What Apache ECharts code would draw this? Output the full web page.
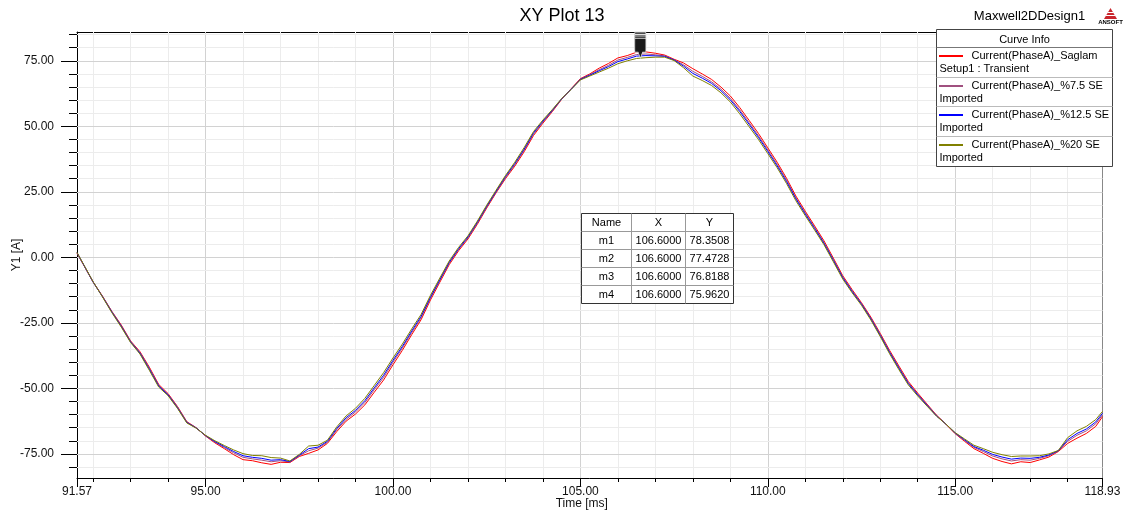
<!DOCTYPE html>
<html><head><meta charset="utf-8">
<script src="https://cdn.jsdelivr.net/npm/echarts@6/dist/echarts.min.js"></script>
<style>html,body{margin:0;padding:0;background:#fff}#c{width:1128px;height:511px}</style>
</head><body><div id="c"></div>
<script>
// ---- data ----
const timeMs = [91.57, 91.75, 92.00, 92.25, 92.50, 92.75, 93.00, 93.25, 93.50, 93.75,
  94.00, 94.25, 94.50, 94.75, 95.00, 95.25, 95.50, 95.75, 96.00, 96.25,
  96.50, 96.75, 97.00, 97.25, 97.50, 97.75, 98.00, 98.25, 98.50, 98.75,
  99.00, 99.25, 99.50, 99.75, 100.00, 100.25, 100.50, 100.75, 101.00, 101.25,
  101.50, 101.75, 102.00, 102.25, 102.50, 102.75, 103.00, 103.25, 103.50, 103.75,
  104.00, 104.25, 104.50, 104.75, 105.00, 105.25, 105.50, 105.75, 106.00, 106.25,
  106.50, 106.75, 107.00, 107.25, 107.50, 107.75, 108.00, 108.25, 108.50, 108.75,
  109.00, 109.25, 109.50, 109.75, 110.00, 110.25, 110.50, 110.75, 111.00, 111.25,
  111.50, 111.75, 112.00, 112.25, 112.50, 112.75, 113.00, 113.25, 113.50, 113.75,
  114.00, 114.25, 114.50, 114.75, 115.00, 115.25, 115.50, 115.75, 116.00, 116.25,
  116.50, 116.75, 117.00, 117.25, 117.50, 117.75, 118.00, 118.25, 118.50, 118.75,
  118.93];

const currentSaglam = [1.6, -3.0, -9.4, -14.8, -20.6, -25.8, -31.9, -36.0, -41.9, -48.5,
  -52.0, -56.9, -62.7, -65.0, -68.2, -70.8, -73.0, -75.3, -77.2, -77.6,
  -78.4, -79.0, -78.2, -78.3, -76.0, -74.8, -73.5, -71.0, -66.5, -62.5,
  -59.8, -56.3, -51.5, -46.8, -41.0, -35.5, -29.5, -23.8, -16.3, -9.5,
  -2.8, 2.5, 7.0, 12.6, 18.8, 24.6, 30.0, 34.8, 40.3, 46.5,
  51.2, 55.6, 60.3, 64.3, 68.2, 70.0, 72.2, 74.0, 76.1, 77.0,
  78.3, 78.4, 77.9, 77.2, 75.6, 74.2, 72.0, 70.0, 67.9, 65.0,
  61.6, 57.2, 52.3, 47.3, 41.8, 36.3, 30.2, 23.4, 17.6, 12.0,
  6.3, -0.3, -7.0, -12.3, -17.3, -22.8, -29.0, -35.5, -41.5, -47.4,
  -51.8, -56.0, -60.2, -63.6, -67.3, -70.2, -73.0, -74.8, -76.7, -77.9,
  -78.8, -78.0, -78.3, -77.3, -76.2, -74.1, -71.0, -69.0, -67.2, -64.5,
  -60.8];

const current7p5SE = [1.7, -2.9, -9.5, -14.9, -20.7, -26.1, -32.1, -36.3, -42.3, -48.9,
  -52.3, -57.1, -62.9, -65.1, -68.1, -70.5, -72.6, -74.6, -76.3, -76.9,
  -77.4, -78.0, -77.6, -78.1, -75.7, -73.8, -72.8, -70.6, -65.8, -61.8,
  -59.0, -55.4, -50.5, -45.8, -40.0, -34.6, -28.7, -23.1, -15.6, -8.9,
  -2.3, 3.0, 7.4, 13.0, 19.2, 24.9, 30.4, 35.3, 40.9, 47.0,
  51.6, 55.9, 60.4, 64.2, 68.0, 69.7, 71.6, 73.3, 75.3, 76.3,
  77.4, 77.6, 77.3, 76.9, 75.4, 73.5, 71.0, 69.1, 67.0, 64.2,
  60.7, 56.3, 51.4, 46.4, 41.0, 35.5, 29.5, 22.7, 17.0, 11.4,
  5.7, -0.8, -7.5, -12.7, -17.7, -23.2, -29.4, -36.0, -42.0, -47.9,
  -52.2, -56.3, -60.3, -63.6, -67.2, -69.9, -72.5, -74.1, -75.8, -76.9,
  -77.7, -77.2, -77.4, -76.7, -75.7, -73.9, -70.2, -67.9, -66.2, -63.5,
  -60.1];

const current12p5SE = [1.8, -2.9, -9.4, -15.0, -20.9, -26.3, -32.3, -36.6, -42.7, -49.1,
  -52.5, -57.4, -63.0, -65.1, -68.0, -70.3, -72.2, -74.1, -75.7, -76.3,
  -76.7, -77.4, -77.2, -77.9, -75.5, -73.0, -72.4, -70.2, -65.3, -61.2,
  -58.4, -54.7, -49.8, -45.0, -39.3, -34.0, -28.1, -22.5, -15.2, -8.5,
  -1.9, 3.3, 7.8, 13.4, 19.5, 25.2, 30.8, 35.8, 41.3, 47.5,
  52.0, 56.1, 60.5, 64.1, 67.9, 69.5, 71.2, 72.8, 74.7, 75.7,
  76.8, 77.0, 76.9, 76.7, 75.3, 73.0, 70.2, 68.4, 66.4, 63.6,
  60.1, 55.7, 50.8, 45.8, 40.4, 34.9, 28.9, 22.3, 16.5, 11.0,
  5.3, -1.2, -7.8, -13.1, -17.9, -23.5, -29.8, -36.3, -42.4, -48.2,
  -52.5, -56.5, -60.5, -63.6, -67.0, -69.6, -72.2, -73.6, -75.2, -76.2,
  -77.0, -76.6, -76.7, -76.3, -75.4, -73.8, -69.6, -67.2, -65.5, -62.8,
  -59.5];

const current20SE = [1.9, -2.8, -9.3, -15.1, -21.1, -26.6, -32.5, -36.9, -43.1, -49.5,
  -52.8, -57.6, -63.2, -65.2, -67.9, -70.0, -71.8, -73.5, -74.9, -75.6,
  -75.7, -76.4, -76.6, -77.7, -75.2, -72.0, -71.7, -69.8, -64.7, -60.5,
  -57.6, -53.8, -48.9, -44.0, -38.4, -33.1, -27.3, -21.8, -14.5, -7.9,
  -1.4, 3.8, 8.2, 13.8, 19.9, 25.6, 31.2, 36.3, 41.9, 48.0,
  52.4, 56.4, 60.6, 64.0, 67.7, 69.2, 70.7, 72.2, 73.9, 75.0,
  75.9, 76.2, 76.4, 76.4, 75.1, 72.4, 69.2, 67.5, 65.6, 62.8,
  59.3, 54.8, 49.9, 45.0, 39.6, 34.2, 28.2, 21.6, 15.9, 10.4,
  4.8, -1.7, -8.3, -13.5, -18.3, -23.9, -30.2, -36.8, -42.9, -48.7,
  -52.9, -56.8, -60.6, -63.6, -66.9, -69.3, -71.7, -73.0, -74.4, -75.3,
  -76.0, -75.8, -75.8, -75.7, -75.0, -73.7, -68.8, -66.2, -64.5, -61.9,
  -58.8];

const seriesNames = ['Current(PhaseA)_Saglam', 'Current(PhaseA)_%7.5 SE', 'Current(PhaseA)_%12.5 SE', 'Current(PhaseA)_%20 SE'];
const seriesSubNames = ['Setup1 : Transient', 'Imported', 'Imported', 'Imported'];

const markerNames = ['m1', 'm2', 'm3', 'm4'];
const markerX = [106.6, 106.6, 106.6, 106.6];
const markerY = [78.3508, 77.4728, 76.8188, 75.9620];

const xLabelValues = [91.57, 95, 100, 105, 110, 115, 118.93];
const xTickMajor = [91.57, 95, 100, 105, 110, 115, 118.93];
const xTickMinor = [92, 93, 94, 96, 97, 98, 99, 101, 102, 103, 104, 106, 107, 108, 109, 111, 112, 113, 114, 116, 117, 118];
const yLabelValues = [-75, -50, -25, 0, 25, 50, 75];
const yTickMinor = [-80, -70, -65, -60, -55, -45, -40, -35, -30, -20, -15, -10, -5, 5, 10, 15, 20, 30, 35, 40, 45, 55, 60, 65, 70, 80, 85];

// ---- presentation ----
const FONT = '"Liberation Sans", Arial, sans-serif';
const X_MIN = 91.57, X_MAX = 118.93, Y_MIN = -84.2, Y_MAX = 86.0;
const COLORS = ['#ff0000', '#a0507f', '#0000ff', '#808000'];
const seriesValues = [currentSaglam, current7p5SE, current12p5SE, current20SE];

const gridLines = [];
xTickMinor.forEach(v => gridLines.push({ xAxis: v, lineStyle: { color: '#ececec' } }));
[95, 100, 105, 110, 115].forEach(v => gridLines.push({ xAxis: v, lineStyle: { color: '#d2d2d2' } }));
yTickMinor.forEach(v => gridLines.push({ yAxis: v, lineStyle: { color: '#ececec' } }));
yLabelValues.forEach(v => gridLines.push({ yAxis: v, lineStyle: { color: '#d2d2d2' } }));

const lineSeries = seriesValues.map((vals, i) => ({
  name: seriesNames[i],
  type: 'line',
  xAxisIndex: 0, yAxisIndex: 0,
  data: timeMs.map((t, k) => [t, vals[k]]),
  showSymbol: false, symbol: 'none',
  lineStyle: { color: COLORS[i], width: 1 },
  z: 3, silent: true
}));

// graphic: title, design name, logo, legend box, marker table
const g = [];
const txt = (x, y, text, size, align, weight) => ({
  type: 'text', x: x, y: y, z: 100,
  style: { text: text, fill: '#000', font: (weight ? weight + ' ' : '') + size + 'px ' + FONT, align: align, textAlign: align, verticalAlign: 'middle', textVerticalAlign: 'middle' }
});
const ln = (x1, y1, x2, y2, color, w) => ({ type: 'line', z: 100, shape: { x1, y1, x2, y2 }, style: { stroke: color, lineWidth: w || 1 } });

g.push(txt(562, 16, 'XY Plot 13', 18, 'center'));
g.push(txt(1029.5, 16.5, 'Maxwell2DDesign1', 13, 'center'));
g.push({ type: 'polygon', z: 100, shape: { points: [[1104, 19], [1110.5, 8], [1117, 19]] }, style: { fill: '#c9252c' } });
g.push(ln(1106, 15.5, 1115, 15.5, '#fff', 1));
g.push(ln(1107.5, 12.5, 1113.5, 12.5, '#fff', 1));
g.push(txt(1110.5, 22.5, 'ANSOFT', 6, 'center', 'bold'));

// legend box
const LX = 936.5, LY = 29.5, LW = 176, LH = 137;
g.push({ type: 'rect', z: 99, shape: { x: LX, y: LY, width: LW, height: LH }, style: { fill: '#fff', stroke: '#444', lineWidth: 1 } });
g.push(txt(LX + LW / 2, 39.5, 'Curve Info', 11, 'center'));
const rowTops = [47.5, 77.5, 106.5, 136.5];
rowTops.forEach((rt, i) => {
  g.push(ln(LX, rt, LX + LW, rt, i === 0 ? '#777' : '#bbb', 1));
  g.push(ln(939, rt + 8.5, 963, rt + 8.5, COLORS[i], 2));
  g.push(txt(971.5, rt + 8.5, seriesNames[i], 11, 'left'));
  g.push(txt(939.5, rt + 21, seriesSubNames[i], 11, 'left'));
});

// marker table
const TX = 581.5, TY = 213.5, TW = 152, TH = 90;
const colEdges = [581.5, 631.5, 685.5, 733.5];
const rowH = 18;
g.push({ type: 'rect', z: 99, shape: { x: TX, y: TY, width: TW, height: TH }, style: { fill: '#fff', stroke: '#333', lineWidth: 1 } });
[1, 2].forEach(c => g.push(ln(colEdges[c], TY, colEdges[c], TY + TH, '#999', 1)));
[1, 2, 3, 4].forEach(r => g.push(ln(TX, TY + r * rowH, TX + TW, TY + r * rowH, '#999', 1)));
const colC = [0, 1, 2].map(c => (colEdges[c] + colEdges[c + 1]) / 2);
['Name', 'X', 'Y'].forEach((h, c) => g.push(txt(colC[c], TY + rowH / 2, h, 11, 'center')));
markerNames.forEach((n, r) => {
  const cy = TY + (r + 1) * rowH + rowH / 2;
  g.push(txt(colC[0], cy, n, 11, 'center'));
  g.push(txt(colC[1], cy, markerX[r].toFixed(4), 11, 'center'));
  g.push(txt(colC[2], cy, markerY[r].toFixed(4), 11, 'center'));
});

const axisCommon = { type: 'value', min: X_MIN, max: X_MAX, gridIndex: 0, splitLine: { show: false } };
const yCommon = { type: 'value', min: Y_MIN, max: Y_MAX, gridIndex: 0, splitLine: { show: false } };

const option = {
  animation: false,
  backgroundColor: '#fff',
  textStyle: { fontFamily: FONT },
  grid: { left: 77, top: 32, right: 25.5, bottom: 33, containLabel: false, outerBoundsMode: 'none' },
  xAxis: [
    Object.assign({}, axisCommon, {
      position: 'bottom',
      axisLine: { show: true, onZero: false, lineStyle: { color: '#000', width: 1 } },
      axisTick: { show: true, customValues: xTickMinor, length: 4, lineStyle: { color: '#000' } },
      axisLabel: { show: false }
    }),
    Object.assign({}, axisCommon, {
      position: 'bottom', offset: 0,
      axisLine: { show: false, onZero: false },
      axisTick: { show: true, customValues: xTickMajor, length: 9, lineStyle: { color: '#000' } },
      axisLabel: { show: true, customValues: xLabelValues, formatter: v => v.toFixed(2), margin: 8, fontSize: 12, color: '#111', fontFamily: FONT, hideOverlap: false, showMinLabel: true, showMaxLabel: true },
      name: 'Time [ms]', nameLocation: 'middle', nameGap: 20, nameMoveOverlap: false,
      nameTextStyle: { fontSize: 12, color: '#111', fontFamily: FONT, padding: [0, 16, 0, 0] }
    }),
    Object.assign({}, axisCommon, {
      position: 'top', offset: 0,
      axisLine: { show: true, onZero: false, lineStyle: { color: '#000', width: 1 } },
      axisTick: { show: false }, axisLabel: { show: false }
    })
  ],
  yAxis: [
    Object.assign({}, yCommon, {
      position: 'left',
      axisLine: { show: true, onZero: false, lineStyle: { color: '#000', width: 1 } },
      axisTick: { show: true, customValues: yTickMinor, length: 8, lineStyle: { color: '#000' } },
      axisLabel: { show: false }
    }),
    Object.assign({}, yCommon, {
      position: 'left', offset: 0,
      axisLine: { show: false, onZero: false },
      axisTick: { show: true, customValues: yLabelValues, length: 16, lineStyle: { color: '#000' } },
      axisLabel: { show: true, customValues: yLabelValues, formatter: v => v.toFixed(2), margin: 23, fontSize: 12, color: '#111', fontFamily: FONT },
      name: 'Y1 [A]', nameLocation: 'middle', nameGap: 54, nameRotate: 90, nameMoveOverlap: false,
      nameTextStyle: { fontSize: 12, color: '#111', fontFamily: FONT }
    }),
    Object.assign({}, yCommon, {
      position: 'right', offset: 0,
      axisLine: { show: true, onZero: false, lineStyle: { color: '#888', width: 1 } },
      axisTick: { show: false }, axisLabel: { show: false }
    })
  ],
  series: [
    {
      type: 'line', name: 'grid', xAxisIndex: 0, yAxisIndex: 0, data: [], silent: true, z: 1,
      markLine: { silent: true, z: 1, symbol: ['none', 'none'], animation: false, label: { show: false }, emphasis: { disabled: true }, lineStyle: { type: 'solid', width: 1 }, data: gridLines }
    },
    ...lineSeries,
    {
      type: 'scatter', name: 'markers', xAxisIndex: 0, yAxisIndex: 0, z: 6, silent: true,
      data: markerX.map((x, i) => [x, markerY[i]]),
      symbol: 'path://M0 0 H10 V14 H7 L5 20 L3 14 H0 Z',
      symbolSize: [11, 20], symbolOffset: [0, '-50%'], symbolKeepAspect: false,
      itemStyle: { color: '#1a1a1a', borderColor: '#e0e0e0', borderWidth: 0.8, opacity: 1 }
    }
  ],
  graphic: g
};

const chart = echarts.init(document.getElementById('c'), null, { renderer: 'canvas' });
chart.setOption(option);
</script>
</body></html>
